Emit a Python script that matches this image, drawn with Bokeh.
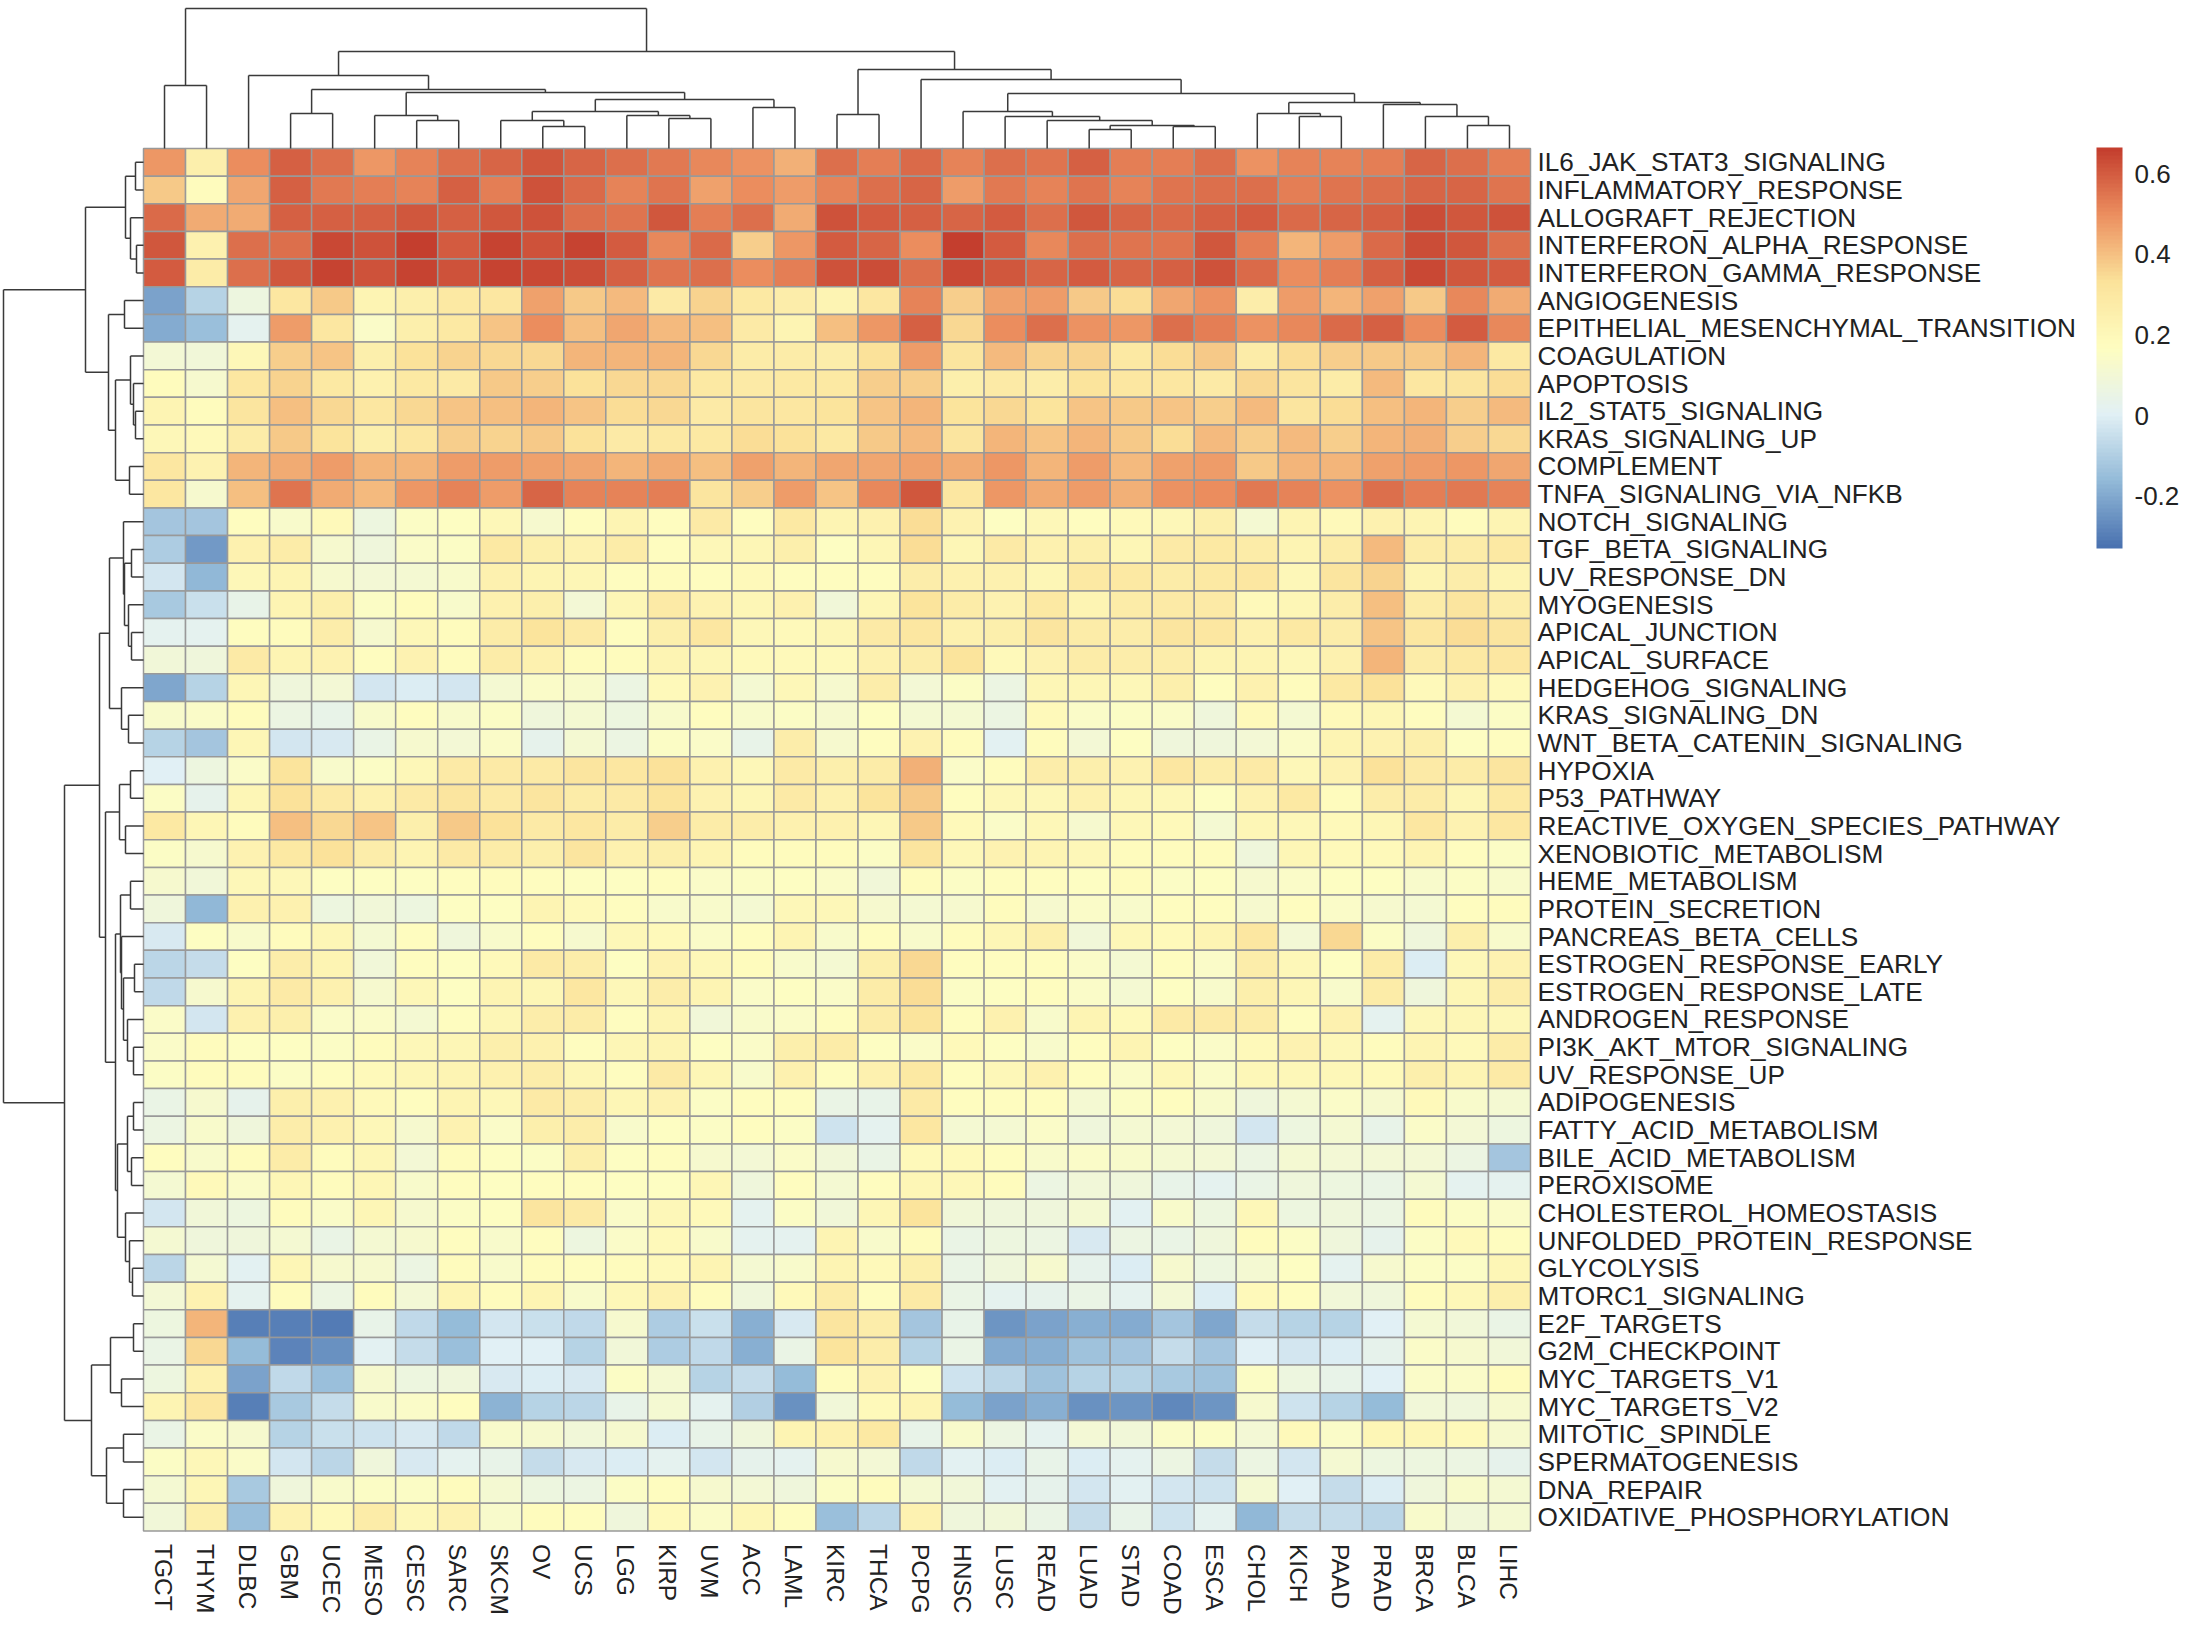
import numpy as np
from bokeh.core.properties import value
from bokeh.embed import file_html
from bokeh.models import ColorBar, ColumnDataSource, FixedTicker, LinearColorMapper, Range1d
from bokeh.plotting import figure
from bokeh.resources import INLINE

cancers = ["TGCT","THYM","DLBC","GBM","UCEC","MESO","CESC","SARC","SKCM","OV","UCS","LGG","KIRP","UVM","ACC","LAML","KIRC",
           "THCA","PCPG","HNSC","LUSC","READ","LUAD","STAD","COAD","ESCA","CHOL","KICH","PAAD","PRAD","BRCA","BLCA","LIHC"]
pathways = ["IL6_JAK_STAT3_SIGNALING","INFLAMMATORY_RESPONSE","ALLOGRAFT_REJECTION","INTERFERON_ALPHA_RESPONSE",
            "INTERFERON_GAMMA_RESPONSE","ANGIOGENESIS","EPITHELIAL_MESENCHYMAL_TRANSITION","COAGULATION","APOPTOSIS",
            "IL2_STAT5_SIGNALING","KRAS_SIGNALING_UP","COMPLEMENT","TNFA_SIGNALING_VIA_NFKB","NOTCH_SIGNALING",
            "TGF_BETA_SIGNALING","UV_RESPONSE_DN","MYOGENESIS","APICAL_JUNCTION","APICAL_SURFACE","HEDGEHOG_SIGNALING",
            "KRAS_SIGNALING_DN","WNT_BETA_CATENIN_SIGNALING","HYPOXIA","P53_PATHWAY","REACTIVE_OXYGEN_SPECIES_PATHWAY",
            "XENOBIOTIC_METABOLISM","HEME_METABOLISM","PROTEIN_SECRETION","PANCREAS_BETA_CELLS","ESTROGEN_RESPONSE_EARLY",
            "ESTROGEN_RESPONSE_LATE","ANDROGEN_RESPONSE","PI3K_AKT_MTOR_SIGNALING","UV_RESPONSE_UP","ADIPOGENESIS",
            "FATTY_ACID_METABOLISM","BILE_ACID_METABOLISM","PEROXISOME","CHOLESTEROL_HOMEOSTASIS",
            "UNFOLDED_PROTEIN_RESPONSE","GLYCOLYSIS","MTORC1_SIGNALING","E2F_TARGETS","G2M_CHECKPOINT","MYC_TARGETS_V1",
            "MYC_TARGETS_V2","MITOTIC_SPINDLE","SPERMATOGENESIS","DNA_REPAIR","OXIDATIVE_PHOSPHORYLATION"]

il6 = [.48,.25,.50,.59,.56,.48,.52,.56,.58,.61,.58,.56,.54,.51,.49,.43,.56,.53,.57,.52,.56,.55,.59,.53,.53,.56,.49,.52,.52,.53,.58,.56,.53]
inflam = [.38,.18,.45,.59,.54,.53,.52,.59,.53,.62,.57,.52,.55,.46,.50,.47,.52,.56,.58,.47,.54,.52,.55,.52,.55,.56,.56,.53,.55,.56,.58,.58,.55]
allog = [.57,.44,.44,.59,.59,.59,.61,.59,.61,.62,.56,.55,.61,.53,.56,.44,.62,.60,.59,.58,.60,.56,.61,.58,.57,.59,.60,.57,.58,.59,.63,.61,.62]
ifna = [.61,.24,.56,.56,.64,.62,.66,.60,.65,.62,.65,.60,.51,.57,.37,.48,.60,.58,.50,.66,.60,.51,.56,.55,.55,.61,.53,.42,.47,.57,.63,.61,.56]
ifng = [.60,.27,.56,.61,.65,.62,.65,.62,.65,.64,.63,.59,.55,.56,.50,.53,.62,.63,.56,.64,.61,.58,.60,.58,.59,.62,.57,.50,.53,.59,.64,.61,.60]
angio = [-.22,-.09,.07,.30,.38,.22,.25,.29,.30,.46,.38,.41,.28,.36,.29,.26,.22,.30,.52,.37,.46,.47,.38,.34,.45,.49,.26,.47,.42,.46,.38,.51,.44]
emt = [-.20,-.15,.02,.47,.30,.14,.25,.29,.39,.50,.40,.45,.41,.40,.28,.22,.40,.48,.59,.35,.50,.56,.49,.48,.56,.53,.49,.51,.57,.59,.50,.60,.51]
coag = [.10,.09,.20,.37,.39,.25,.33,.36,.35,.35,.42,.42,.42,.35,.27,.27,.26,.33,.47,.31,.41,.36,.36,.29,.34,.38,.27,.34,.37,.38,.38,.42,.29]
apopt = [.18,.12,.30,.36,.29,.24,.29,.28,.38,.37,.33,.35,.35,.29,.28,.29,.29,.37,.37,.25,.28,.26,.32,.30,.30,.28,.35,.31,.27,.41,.30,.31,.34]
il2 = [.22,.18,.31,.40,.35,.30,.35,.39,.40,.42,.39,.34,.35,.28,.31,.30,.32,.39,.42,.32,.35,.32,.39,.38,.39,.37,.41,.31,.34,.40,.42,.37,.41]
kras_up = [.20,.19,.27,.38,.32,.25,.30,.37,.36,.38,.33,.28,.29,.29,.34,.33,.29,.38,.41,.31,.42,.39,.42,.38,.34,.41,.37,.41,.37,.42,.43,.37,.35]
compl = [.30,.23,.42,.44,.47,.42,.42,.47,.47,.46,.45,.42,.44,.40,.46,.42,.45,.45,.46,.44,.48,.42,.47,.41,.46,.47,.38,.42,.42,.46,.47,.48,.45]
tnfa = [.30,.12,.40,.55,.44,.41,.48,.52,.47,.58,.52,.52,.53,.31,.37,.47,.39,.51,.61,.30,.48,.44,.47,.43,.49,.50,.54,.52,.49,.56,.53,.54,.52]
notch = [-.13,-.13,.17,.13,.19,.07,.15,.16,.20,.12,.17,.22,.17,.28,.17,.29,.22,.24,.34,.23,.16,.20,.17,.19,.20,.25,.11,.22,.19,.24,.22,.18,.22]
tgf = [-.11,-.24,.24,.27,.12,.08,.14,.15,.29,.25,.23,.27,.17,.20,.21,.25,.16,.21,.34,.21,.28,.24,.25,.21,.28,.29,.27,.22,.27,.41,.27,.27,.29]
uv_dn = [-.03,-.17,.20,.22,.12,.10,.11,.13,.24,.22,.21,.17,.18,.17,.19,.17,.17,.17,.26,.24,.24,.21,.29,.29,.27,.29,.30,.20,.31,.36,.22,.26,.22]
myog = [-.12,-.05,.04,.22,.25,.15,.18,.13,.24,.25,.10,.21,.28,.23,.21,.24,.09,.21,.32,.27,.23,.29,.22,.27,.28,.28,.19,.21,.26,.40,.27,.31,.26]
apical_j = [.02,.02,.17,.18,.26,.12,.20,.18,.27,.32,.28,.17,.25,.30,.20,.19,.21,.28,.30,.24,.25,.31,.27,.26,.31,.30,.24,.29,.26,.39,.30,.34,.31]
apical_s = [.09,.08,.28,.22,.23,.17,.23,.18,.27,.24,.18,.18,.22,.21,.19,.19,.19,.24,.26,.32,.19,.23,.27,.26,.26,.22,.22,.20,.24,.42,.27,.29,.30]
hedgehog = [-.21,-.09,.21,.08,.10,-.03,-.01,-.03,.11,.14,.13,.06,.19,.23,.11,.20,.12,.26,.10,.15,.06,.21,.21,.20,.25,.17,.24,.18,.29,.33,.19,.24,.19]
kras_dn = [.13,.14,.18,.06,.04,.13,.17,.13,.15,.08,.11,.07,.13,.17,.13,.15,.12,.16,.11,.11,.06,.19,.14,.15,.14,.08,.19,.11,.19,.21,.17,.11,.15]
wnt = [-.09,-.13,.21,-.03,-.02,.05,.12,.10,.14,.03,.11,.06,.15,.14,.04,.26,.12,.17,.23,.18,.01,.18,.10,.16,.08,.08,.10,.14,.22,.23,.25,.16,.17]
hypoxia = [.00,.07,.14,.32,.13,.15,.20,.28,.28,.28,.31,.30,.33,.24,.20,.28,.25,.27,.43,.14,.18,.26,.25,.23,.30,.26,.28,.20,.23,.33,.28,.27,.31]
p53 = [.15,.03,.21,.33,.28,.24,.28,.31,.28,.31,.27,.28,.32,.23,.21,.28,.24,.32,.38,.17,.20,.20,.24,.21,.20,.16,.23,.29,.18,.26,.27,.21,.29]
ros = [.29,.21,.18,.40,.35,.39,.25,.38,.33,.28,.30,.27,.37,.27,.26,.24,.24,.21,.38,.19,.14,.20,.12,.20,.19,.11,.21,.20,.19,.21,.30,.23,.30]
xeno = [.15,.12,.23,.29,.33,.26,.22,.28,.27,.25,.31,.24,.25,.22,.18,.18,.18,.15,.31,.20,.23,.22,.20,.18,.18,.18,.08,.21,.19,.19,.22,.17,.15]
heme = [.12,.09,.20,.20,.16,.16,.16,.17,.18,.17,.16,.16,.17,.14,.15,.16,.14,.09,.18,.15,.17,.17,.16,.18,.15,.16,.12,.14,.16,.16,.13,.15,.13]
protein = [.08,-.17,.24,.24,.07,.09,.07,.16,.16,.22,.19,.17,.13,.13,.11,.20,.20,.12,.11,.12,.18,.12,.14,.13,.17,.17,.12,.17,.14,.12,.11,.17,.18]
pancreas = [-.02,.16,.13,.18,.21,.11,.17,.08,.13,.17,.12,.20,.19,.14,.17,.22,.13,.17,.13,.18,.21,.25,.09,.20,.19,.22,.30,.10,.35,.15,.08,.25,.13]
est_early = [-.08,-.06,.16,.26,.22,.09,.17,.16,.19,.28,.26,.16,.23,.20,.18,.13,.11,.25,.35,.17,.17,.17,.14,.11,.17,.14,.26,.20,.16,.27,-.01,.20,.23]
est_late = [-.07,.12,.22,.28,.24,.12,.20,.16,.22,.21,.30,.20,.26,.22,.14,.16,.14,.27,.34,.15,.16,.17,.14,.11,.16,.13,.25,.21,.13,.27,.08,.21,.26]
andro = [.14,-.03,.24,.25,.14,.14,.11,.17,.21,.26,.27,.17,.22,.09,.13,.14,.17,.27,.32,.17,.24,.13,.22,.19,.28,.28,.27,.17,.24,.02,.20,.21,.20]
pi3k = [.14,.18,.16,.16,.15,.18,.20,.21,.25,.24,.17,.21,.22,.16,.14,.25,.27,.16,.14,.19,.16,.13,.17,.22,.16,.14,.19,.23,.20,.18,.22,.19,.27]
uv_up = [.15,.18,.18,.15,.17,.19,.21,.22,.24,.26,.21,.17,.28,.21,.13,.24,.17,.24,.29,.17,.20,.24,.17,.14,.20,.14,.20,.20,.20,.19,.25,.22,.28]
adipo = [.05,.12,.03,.25,.24,.19,.17,.22,.20,.28,.26,.21,.23,.15,.17,.17,.05,.04,.28,.17,.17,.17,.11,.15,.17,.13,.08,.11,.14,.12,.19,.13,.11]
fatty = [.06,.13,.08,.26,.24,.20,.12,.23,.14,.25,.26,.13,.16,.15,.17,.15,-.04,.02,.30,.11,.11,.14,.08,.11,.10,.08,-.03,.07,.11,.04,.14,.10,.07]
bile = [.17,.13,.18,.27,.18,.21,.10,.18,.16,.15,.25,.16,.17,.12,.10,.14,.09,.05,.19,.19,.17,.13,.14,.13,.11,.10,.06,.11,.10,.10,.10,.06,-.13]
perox = [.11,.19,.14,.21,.18,.21,.13,.17,.16,.17,.17,.16,.16,.21,.08,.17,.11,.17,.21,.20,.18,.06,.09,.08,.04,.02,.05,.08,.07,.05,.11,.02,.02]
chol = [-.03,.09,.07,.18,.14,.21,.12,.15,.16,.31,.28,.14,.20,.19,.02,.15,.09,.21,.32,.09,.08,.08,.11,.01,.13,.07,.20,.07,.08,.06,.18,.15,.14]
upr = [.11,.08,.08,.11,.05,.11,.12,.17,.13,.17,.07,.14,.19,.13,.02,.02,.22,.13,.18,.05,.07,.06,-.02,.06,.05,.08,.18,.15,.08,.03,.15,.19,.17]
glyco = [-.08,.11,.01,.21,.12,.12,.06,.18,.13,.18,.17,.18,.19,.22,.11,.13,.22,.19,.25,.05,.08,.12,.03,-.01,.12,.07,.11,.16,.02,.12,.15,.15,.21]
mtorc1 = [.10,.23,.02,.18,.06,.18,.10,.22,.18,.22,.13,.20,.24,.18,.08,.19,.27,.17,.28,.05,.02,.03,.05,.02,.10,-.01,.19,.17,.09,.08,.18,.20,.25]
e2f = [.07,.42,-.30,-.30,-.31,.04,-.07,-.16,-.03,-.05,-.07,.12,-.11,-.05,-.19,-.02,.31,.26,-.13,.04,-.25,-.22,-.19,-.20,-.13,-.21,-.06,-.09,-.09,.00,.11,.09,.05]
g2m = [.05,.35,-.16,-.29,-.26,.01,-.06,-.15,.00,.00,-.09,.09,-.11,-.07,-.19,.05,.32,.26,-.09,.05,-.20,-.19,-.14,-.13,-.06,-.13,.00,-.03,-.01,.03,.14,.12,.09]
myc1 = [.07,.24,-.22,-.07,-.15,.12,.07,.08,-.02,-.01,-.02,.15,.11,-.09,-.06,-.16,.18,.23,.16,-.04,-.08,-.14,-.09,-.09,-.12,-.14,.15,.07,.04,.00,.14,.14,.18]
myc2 = [.22,.30,-.30,-.12,-.06,.13,.14,.17,-.18,-.09,-.08,.04,.11,.02,-.10,-.26,.09,.19,.22,-.16,-.22,-.19,-.26,-.25,-.28,-.25,.12,-.04,-.09,-.16,.09,.08,.12]
mitotic = [.05,.14,.12,-.09,-.05,-.04,-.02,-.07,.13,.12,.09,.12,-.01,.04,.08,.22,.24,.29,.04,.13,.06,.02,.10,.09,.14,.15,.10,.19,.14,.21,.21,.19,.12]
sperm = [.15,.20,.14,-.03,-.08,.08,-.02,.02,.04,-.06,-.02,-.01,.02,-.03,.03,.02,.12,.10,-.07,.01,-.01,.04,-.01,.02,.06,-.06,.06,-.03,.11,.07,.07,.06,.03]
dna = [.11,.21,-.12,.08,.13,.15,.15,.18,.11,.07,.06,.15,.17,.12,.10,.08,.15,.18,.11,.09,.01,.03,-.03,.01,-.03,-.04,.11,.00,-.06,-.01,.08,.13,.11]
oxphos = [.09,.25,-.15,.23,.19,.27,.20,.23,.13,.18,.17,.08,.19,.14,.21,.17,-.15,-.08,.23,.08,.09,.05,-.06,.04,-.04,.02,-.17,-.06,-.06,-.08,.13,.09,.11]

rows_data = [il6,inflam,allog,ifna,ifng,angio,emt,coag,apopt,il2,kras_up,compl,tnfa,notch,tgf,uv_dn,myog,apical_j,apical_s,
             hedgehog,kras_dn,wnt,hypoxia,p53,ros,xeno,heme,protein,pancreas,est_early,est_late,andro,pi3k,uv_up,adipo,
             fatty,bile,perox,chol,upr,glyco,mtorc1,e2f,g2m,myc1,myc2,mitotic,sperm,dna,oxphos]

# dendrograms: (merge height, left child, right child); an int is a leaf index
col_tree = (140, (63, 0, 1),
    (97,
        (73, 2, (59, (35, 3, 4),
            (56, (33, 5, (28, 6, 7)),
                (49, (37, (28, 8, (22, 9, 10)), (33, 11, (30, 12, 13))), (41, 14, 15))))),
        (79, (34, 16, 17),
            (69, 18, (55,
                (37, 19, (32, 20, (28, 21, (23, (19, 22, 23), (22, 24, 25))))),
                (46, (35, 26, (32, 27, 28)), (44, 29, (32, 30, (23, 31, 32)))))))))

row_tree = (140,
    (58,
        (18, (8, 0, 1), (13, 2, (7, 3, 4))),
        (35, (19, 5, 6),
            (28, (13, 7, (10, 8, (8, 9, 10))), (14, 11, 12)))),
    (79,
        (44,
            (34,
                (20, 13, (19, (12, 14, 15), (15, 16, (12, 17, 18)))),
                (22, 19, (15, 20, 21))),
            (38,
                (24, (13, 22, 23), (18, 24, 25)),
                (28,
                    (23, (13, 26, 27), (22, 28, (20, (9, 29, 30), (16, 31, (10, 32, 33))))),
                    (26, (16, (10, 34, 35), (12, 36, 37)),
                         (18, 38, (14, 39, (11, 40, 41))))))),
        (52,
            (33, (10, 42, 43), (22, 44, 45)),
            (37, (20, 46, 47), (20, 48, 49)))))

legend_ticks = [-0.2, 0, 0.2, 0.4, 0.6]
value_low, value_high = -0.33, 0.665
stops = ["#4A72B0", "#93BAD8", "#E1F0F5", "#FEFDC0", "#FBE29A", "#EC8F60", "#C43E2E"]

for r in rows_data:
    assert len(r) == len(cancers)
assert len(rows_data) == len(pathways)

def hex2rgb(h):
    return np.array([int(h[i:i+2], 16) for i in (1, 3, 5)], float)

rgb = np.array([hex2rgb(s) for s in stops])
t = np.linspace(0, 6, 100)
palette = ["#%02x%02x%02x" % tuple(int(round(np.interp(v, range(7), rgb[:, k]))) for k in range(3)) for v in t]
mapper = LinearColorMapper(palette=palette, low=value_low, high=value_high)

CELL_W, CELL_H = 42.03, 27.65
LEFT, TOP = 143.0, 148.0
FIG_W, FIG_H = 2180, 1624

n_r, n_c = len(pathways), len(cancers)
xr = Range1d(-LEFT / CELL_W, (FIG_W - LEFT) / CELL_W)
yr = Range1d((FIG_H - TOP) / CELL_H, -TOP / CELL_H)

p = figure(width=FIG_W, height=FIG_H, x_range=xr, y_range=yr, output_backend="svg", toolbar_location=None,
           min_border=0, outline_line_color=None)
p.axis.visible = False
p.grid.visible = False

cx, cy, cv = [], [], []
for i, row in enumerate(rows_data):
    for j, v in enumerate(row):
        cx.append(j + 0.5); cy.append(i + 0.5); cv.append(v)
src = ColumnDataSource(dict(x=cx, y=cy, v=cv))
p.rect("x", "y", width=1, height=1, source=src, fill_color={"field": "v", "transform": mapper},
       line_color="#999999", line_width=1.5)

def walk(node, segs):
    """returns centre position; segs gets (pos0, h0, pos1, h1)."""
    if isinstance(node, int):
        return node + 0.5, 0
    h, a, b = node
    pa, ha = walk(a, segs)
    pb, hb = walk(b, segs)
    segs.append((pa, ha, pa, h))
    segs.append((pb, hb, pb, h))
    segs.append((pa, h, pb, h))
    return (pa + pb) / 2, h

seg_c, seg_r = [], []
walk(col_tree, seg_c)
walk(row_tree, seg_r)
DEND = "#3a3a3a"
p.segment([s[0] for s in seg_c], [-s[1] / CELL_H for s in seg_c], [s[2] for s in seg_c], [-s[3] / CELL_H for s in seg_c],
          line_color=DEND, line_width=1.5)
p.segment([-s[1] / CELL_W for s in seg_r], [s[0] for s in seg_r], [-s[3] / CELL_W for s in seg_r], [s[2] for s in seg_r],
          line_color=DEND, line_width=1.5)

FONT = value("Liberation Sans")
p.text([n_c + 7.0 / CELL_W] * n_r, [i + 0.5 for i in range(n_r)], text=pathways, text_font=FONT, text_font_size="26.2px",
       text_align="left", text_baseline="middle", text_color="#222222")
p.text([j + 0.5 - 1.0 / CELL_W for j in range(n_c)], [n_r + 13.0 / CELL_H] * n_c, text=cancers, text_font=FONT, text_font_size="24.5px",
       angle=-np.pi / 2, text_align="left", text_baseline="middle", text_color="#222222")

bar = ColorBar(color_mapper=mapper, ticker=FixedTicker(ticks=legend_ticks),
               major_label_overrides={-0.2: "-0.2", 0: "0", 0.2: "0.2", 0.4: "0.4", 0.6: "0.6"},
               width=26, height=401, location=(2096, FIG_H - 548), padding=0, margin=0,
               major_tick_line_color=None, minor_tick_line_color=None, bar_line_color=None,
               background_fill_alpha=0, border_line_color=None, label_standoff=12,
               major_label_text_font="Liberation Sans", major_label_text_font_size="26px",
               major_label_text_color="#222222")
p.add_layout(bar, "center")

open("out.html", "w").write(file_html(p, INLINE))
